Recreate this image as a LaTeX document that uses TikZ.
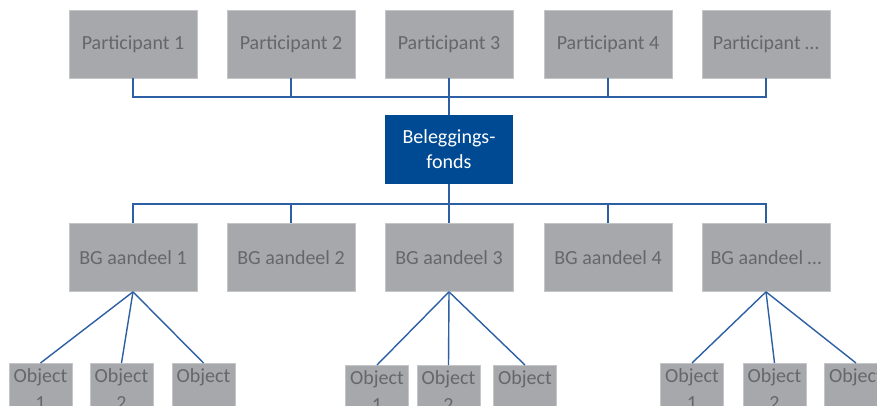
\documentclass[tikz,border=0pt]{standalone}
\usepackage{fontspec}
\setmainfont{Carlito}
\definecolor{boxgray}{HTML}{A7A8AB}
\definecolor{boxedge}{HTML}{C4C5C7}
\definecolor{txtgray}{HTML}{66676A}
\definecolor{fundblue}{HTML}{004A93}
\definecolor{linkblue}{HTML}{2C5FA3}
\tikzset{
  graybox/.style={rectangle, fill=boxgray, draw=boxedge, line width=0.7pt, text=txtgray, minimum width=128pt, minimum height=68pt, inner sep=0pt, font=\fontsize{20}{24}\selectfont},
  fundbox/.style={rectangle, fill=fundblue, text=white, minimum width=128pt, minimum height=69pt, inner sep=0pt, align=center, font=\fontsize{20}{25}\selectfont},
  objbox/.style={rectangle, fill=boxgray, draw=boxedge, line width=0.7pt, text=txtgray, minimum width=63pt, inner xsep=0pt, inner ysep=5pt, anchor=north, align=center, font=\fontsize{20}{27}\selectfont},
  tree/.style={draw=linkblue, line width=2pt},
  twig/.style={draw=linkblue, line width=1.4pt}
}
\begin{document}
\begin{tikzpicture}[x=1pt,y=-1pt]
\clip (0,0) rectangle (877,405);
\fill[white] (0,0) rectangle (877,405);
% participants
\node[graybox] (p1) at (133,44) {Participant 1};
\node[graybox] (p2) at (291,44) {Participant 2};
\node[graybox] (p3) at (449,44) {Participant 3};
\node[graybox] (p4) at (608,44) {Participant 4};
\node[graybox] (p5) at (766,44) {Participant …};
% fund
\node[fundbox] (fund) at (449,149.5) {Beleggings-\\fonds};
% BG
\node[graybox] (b1) at (133,257.5) {BG aandeel 1};
\node[graybox] (b2) at (291,257.5) {BG aandeel 2};
\node[graybox] (b3) at (449,257.5) {BG aandeel 3};
\node[graybox] (b4) at (608,257.5) {BG aandeel 4};
\node[graybox] (b5) at (766,257.5) {BG aandeel …};
% objects
\node[objbox] (o11) at (40.5,363) {Object\\1};
\node[objbox] (o12) at (121.5,363) {Object\\2};
\node[objbox] (o13) at (203.5,363) {Object\\..};
\node[objbox] (o31) at (377,365) {Object\\1};
\node[objbox] (o32) at (448.5,365) {Object\\2};
\node[objbox] (o33) at (525,365) {Object\\..};
\node[objbox] (o51) at (692,363) {Object\\1};
\node[objbox] (o52) at (774.5,363) {Object\\2};
\node[objbox] (o53) at (856,363) {Object\\..};
% top bus
\coordinate (bt) at (0,97);
\draw[tree] (p1.south) -- (p1.south |- bt) -- (p5.south |- bt) -- (p5.south);
\draw[tree] (p2.south) -- (p2.south |- bt);
\draw[tree] (p4.south) -- (p4.south |- bt);
\draw[tree] (p3.south) -- (fund.north);
% bottom bus
\coordinate (bb) at (0,204);
\draw[tree] (b1.north) -- (b1.north |- bb) -- (b5.north |- bb) -- (b5.north);
\draw[tree] (b2.north) -- (b2.north |- bb);
\draw[tree] (b4.north) -- (b4.north |- bb);
\draw[tree] (fund.south) -- (b3.north);
% twigs
\foreach \b/\o in {b1/o11,b1/o12,b1/o13,b3/o31,b3/o32,b3/o33,b5/o51,b5/o52,b5/o53}
  \draw[twig] (\b.south) -- (\o.north);
\end{tikzpicture}
\end{document}
